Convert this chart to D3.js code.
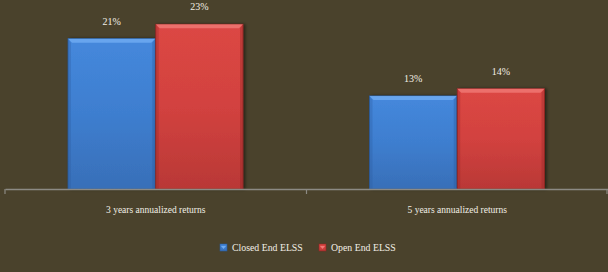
<!DOCTYPE html>
<html>
<head>
<meta charset="utf-8">
<script src="https://cdn.jsdelivr.net/npm/d3@7"></script>
<style>
  body { margin: 0; background: #4a422c; }
  svg { display: block; }
  text { font-family: "Liberation Serif", "DejaVu Serif", serif; fill: #f2efe6; }
</style>
</head>
<body>
<svg id="chart" width="608" height="272"></svg>
<script>
var categories = ["3 years annualized returns", "5 years annualized returns"];
var seriesNames = ["Closed End ELSS", "Open End ELSS"];
var closedEnd = [21, 13];
var openEnd = [23, 14];

var width = 608, height = 272;
var margin = {left: 5, right: 0, top: 10, bottom: 83};
var chartWidth = width - margin.left - margin.right;
var chartHeight = height - margin.top - margin.bottom;

var colors = {
    "Closed End ELSS": {top: "#4588dc", mid: "#3e7ecf", bottom: "#386fb8", edge: "#2b5a9a", light: "#70acf2"},
    "Open End ELSS": {top: "#dc4744", mid: "#d2423f", bottom: "#b93836", edge: "#8e2624", light: "#f07a76"}
};

var svg = d3.select("#chart");
var defs = svg.append("defs");

seriesNames.forEach(function (name, i) {
    var c = colors[name];
    var g = defs.append("linearGradient").attr("id", "grad" + i)
        .attr("x1", 0).attr("y1", 0).attr("x2", 0).attr("y2", 1);
    g.append("stop").attr("offset", "0%").attr("stop-color", c.top);
    g.append("stop").attr("offset", "50%").attr("stop-color", c.mid);
    g.append("stop").attr("offset", "100%").attr("stop-color", c.bottom);
});

var shadow = defs.append("filter").attr("id", "shadow")
    .attr("x", "-10%").attr("y", "-10%").attr("width", "130%").attr("height", "120%");
shadow.append("feDropShadow").attr("dx", 2).attr("dy", 0).attr("stdDeviation", 1.5)
    .attr("flood-color", "#000").attr("flood-opacity", 0.45);

var main = svg.append("g").attr("transform", "translate(" + margin.left + "," + margin.top + ")");

var x0 = d3.scaleBand().domain(categories).range([0, chartWidth]).paddingInner(0).paddingOuter(0);
var x1 = d3.scaleBand().domain(seriesNames).range([63, x0.bandwidth() - 63]).padding(0);
var y = d3.scaleLinear().domain([0, 25]).range([chartHeight, 0]);

var data = [];
categories.forEach(function (cat, i) {
    data.push({cat: cat, series: seriesNames[0], value: closedEnd[i], idx: 0});
    data.push({cat: cat, series: seriesNames[1], value: openEnd[i], idx: 1});
});

var bars = main.selectAll(".bar").data(data).enter().append("g")
    .attr("class", "bar")
    .attr("transform", function (d) { return "translate(" + (x0(d.cat) + x1(d.series)) + ",0)"; });

var bw = x1.bandwidth() - 0.5;

bars.append("rect")
    .attr("x", 0)
    .attr("y", function (d) { return y(d.value); })
    .attr("width", bw)
    .attr("height", function (d) { return chartHeight - y(d.value); })
    .attr("fill", function (d) { return "url(#grad" + d.idx + ")"; })
    .attr("stroke", function (d) { return colors[d.series].edge; })
    .attr("stroke-width", 0.8)
    .attr("filter", "url(#shadow)");

// top bevel
bars.append("path")
    .attr("d", function (d) {
        var t = y(d.value);
        return "M0," + t + "L" + bw + "," + t + "L" + (bw - 4) + "," + (t + 4) + "L4," + (t + 4) + "Z";
    })
    .attr("fill", function (d) { return colors[d.series].light; })
    .attr("opacity", 0.8);

// side bevels
bars.append("path")
    .attr("d", function (d) {
        var t = y(d.value);
        return "M" + bw + "," + t + "L" + bw + "," + chartHeight + "L" + (bw - 3) + "," + chartHeight + "L" + (bw - 3) + "," + (t + 4) + "Z";
    })
    .attr("fill", function (d) { return colors[d.series].edge; })
    .attr("opacity", 0.35);
bars.append("path")
    .attr("d", function (d) {
        var t = y(d.value);
        return "M0," + t + "L0," + chartHeight + "L3," + chartHeight + "L3," + (t + 4) + "Z";
    })
    .attr("fill", function (d) { return colors[d.series].edge; })
    .attr("opacity", 0.3);

bars.append("text")
    .attr("x", bw / 2)
    .attr("y", function (d) { return y(d.value) - 14; })
    .attr("text-anchor", "middle")
    .attr("font-size", "10px")
    .text(function (d) { return d.value + "%"; });

// axis
var xAxis = d3.axisBottom(x0).tickSize(0).tickFormat("");
var axisG = main.append("g")
    .attr("transform", "translate(0," + chartHeight + ")")
    .call(xAxis);
axisG.select(".domain").attr("stroke", "#8c8a84").attr("stroke-width", 1.5);
var tickPos = [0, x0.bandwidth(), chartWidth - 1];
axisG.selectAll(".sep").data(tickPos).enter().append("line")
    .attr("x1", function (d) { return d; }).attr("x2", function (d) { return d; })
    .attr("y1", 0).attr("y2", 5)
    .attr("stroke", "#8c8a84").attr("stroke-width", 1.2);

main.selectAll(".catlabel").data(categories).enter().append("text")
    .attr("x", function (d) { return x0(d) + x0.bandwidth() / 2; })
    .attr("y", chartHeight + 24)
    .attr("text-anchor", "middle")
    .attr("font-size", "9.5px")
    .text(function (d) { return d; });

// legend
var legendX = [220, 319];
var legend = svg.selectAll(".legend").data(seriesNames).enter().append("g")
    .attr("transform", function (d, i) { return "translate(" + legendX[i] + ",244)"; });
legend.append("rect")
    .attr("width", 7).attr("height", 7)
    .attr("fill", function (d, i) { return "url(#grad" + i + ")"; })
    .attr("stroke", function (d) { return colors[d].edge; })
    .attr("stroke-width", 0.6);
legend.append("path")
    .attr("d", "M1,2L6,2L3.5,5Z")
    .attr("fill", function (d) { return colors[d].light; });
legend.append("text")
    .attr("x", 12).attr("y", 7)
    .attr("font-size", "9.8px")
    .text(function (d) { return d; });
</script>
</body>
</html>
